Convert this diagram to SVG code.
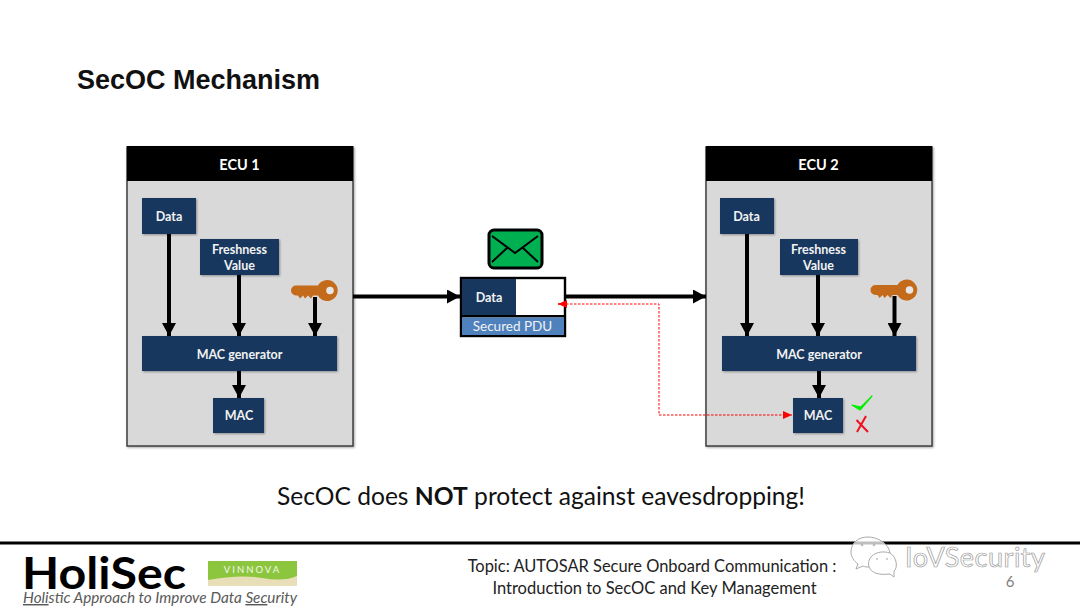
<svg xmlns="http://www.w3.org/2000/svg" width="1080" height="608" viewBox="0 0 1080 608">
<style>
text{font-family:Lato,"Open Sans",sans-serif}
.ecu{fill:#d9d9d9;stroke:#3f3f3f;stroke-width:1.5;filter:drop-shadow(1px 1px 1px rgba(0,0,0,.35))}
.head{fill:#000}
.hl{fill:#fff;font-size:14.5px;font-weight:700;text-anchor:middle}
.box{fill:#17375e;filter:drop-shadow(1px 1px 1px rgba(0,0,0,.35))}
.bl{fill:#f2f2f2;font-size:12.5px;font-weight:700;text-anchor:middle}
.wire{stroke:#000;stroke-width:4;fill:none}
.key{fill:#c46a1b}
</style>
<defs>
<marker id="arrow" markerUnits="userSpaceOnUse" markerWidth="14" markerHeight="14" refX="13" refY="7" orient="auto"><path d="M0 0L13 7L0 14Z" fill="#000"/></marker>
<marker id="arrowRed" markerUnits="userSpaceOnUse" markerWidth="10" markerHeight="8" refX="9" refY="4" orient="auto"><path d="M0 0L9 4L0 8Z" fill="#f00"/></marker>
<g id="keyGlyph"><path class="key" d="M3 -5L25 -5A10.500 10.500 0 1 1 25 5L20 5L18 8L15 5L12 8L10 5L7 8L5 5L3 5A5 5 0 0 1 3 -5Z"/><circle cx="37" cy="0" r="3.800" fill="#e6e6e6"/></g>
</defs>
<rect width="1080" height="608" fill="#fff"/>
<text x="77" y="89" font-size="27" font-weight="700" style="font-family:'Liberation Sans',Arial,sans-serif" fill="#111">SecOC Mechanism</text>

<g id="ecu1">
<rect class="ecu" x="127" y="147" width="226" height="299"/>
<rect class="head" x="127" y="146" width="226" height="35"/>
<text class="hl" x="239.500" y="169.500">ECU 1</text>
</g>
<g id="ecu2">
<rect class="ecu" x="706" y="147" width="226" height="299"/>
<rect class="head" x="706" y="146" width="226" height="35"/>
<text class="hl" x="818.500" y="169.500">ECU 2</text>
</g>

<g id="e1-data"><rect class="box" x="142" y="198" width="54" height="36"/><text class="bl" x="169" y="220.500">Data</text></g>
<g id="e1-fresh"><rect class="box" x="200" y="239" width="79" height="36"/><text class="bl" x="239.500" y="253.500">Freshness</text><text class="bl" x="239.500" y="269.500">Value</text></g>
<g id="e1-key"><use href="#keyGlyph" x="293" y="290.500"/></g>
<g id="e1-gen"><rect class="box" x="142" y="336" width="195" height="35"/><text class="bl" x="239.500" y="358.500">MAC generator</text></g>
<g id="e1-mac"><rect class="box" x="213" y="398" width="51" height="35"/><text class="bl" x="239" y="420">MAC</text></g>

<g id="e2-data"><rect class="box" x="720" y="198" width="54" height="36"/><text class="bl" x="746.500" y="220.500">Data</text></g>
<g id="e2-fresh"><rect class="box" x="780" y="239" width="78" height="36"/><text class="bl" x="818.500" y="253.500">Freshness</text><text class="bl" x="818.500" y="269.500">Value</text></g>
<g id="e2-key"><use href="#keyGlyph" x="872.500" y="290"/></g>
<g id="e2-gen"><rect class="box" x="722" y="336" width="194" height="35"/><text class="bl" x="819" y="358.500">MAC generator</text></g>
<g id="e2-mac"><rect class="box" x="793" y="398" width="50" height="35"/><text class="bl" x="818" y="420">MAC</text></g>

<g id="connectors">
<path class="wire" d="M169 234V336" marker-end="url(#arrow)"/>
<path class="wire" d="M239 275V336" marker-end="url(#arrow)"/>
<path class="wire" d="M315 297V336" marker-end="url(#arrow)"/>
<path class="wire" d="M239 371V398" marker-end="url(#arrow)"/>
<path class="wire" d="M747 234V336" marker-end="url(#arrow)"/>
<path class="wire" d="M818 275V336" marker-end="url(#arrow)"/>
<path class="wire" d="M894.500 296V336" marker-end="url(#arrow)"/>
<path class="wire" d="M819 371V398" marker-end="url(#arrow)"/>
<path class="wire" d="M353 296.500H460" marker-end="url(#arrow)"/>
<path class="wire" d="M565 296.500H706" marker-end="url(#arrow)"/>
</g>

<g id="envelope">
<rect x="489" y="230" width="53" height="38" rx="5" fill="#00b050" stroke="#000" stroke-width="3"/>
<path d="M492 236L515 253L538 236M492 262L507 248M538 262L523 248" fill="none" stroke="#000" stroke-width="2"/>
</g>
<g id="pdu">
<rect x="461" y="278" width="104" height="58" fill="#fff" stroke="#000" stroke-width="2.400"/>
<rect x="462" y="279" width="54" height="36" fill="#17375e"/>
<rect x="462" y="315" width="102" height="2.500" fill="#000"/>
<rect x="462" y="317.500" width="102" height="17.500" fill="#4f81bd"/>
<text class="bl" x="489" y="302">Data</text>
<text x="512.500" y="331" font-size="13.500" text-anchor="middle" fill="#f2f2f2">Secured PDU</text>
</g>

<g id="verification-link">
<path d="M558 304H659V415H792" fill="none" stroke="#f00" stroke-width="1" stroke-dasharray="2.500 1.500" marker-end="url(#arrowRed)"/>
<path d="M567 304H558" fill="none" stroke="#f00" stroke-width="1" marker-end="url(#arrowRed)"/>
</g>
<g id="verdict">
<path d="M852 405L860 410L872 396L861 407Z" fill="#00ee00" stroke="#00ee00" stroke-width="1.200" stroke-linejoin="round"/>
<path d="M857 432L866 416M856.500 420L868 432" fill="none" stroke="#f01020" stroke-width="2"/>
</g>

<text x="541" y="505" font-size="24.600" text-anchor="middle" fill="#111">SecOC does <tspan font-weight="700">NOT</tspan> protect against eavesdropping!</text>

<g id="footer">
<rect x="0" y="541.500" width="1080" height="3" fill="#000"/>
<text x="22" y="588.500" font-size="44" font-weight="700" fill="#000" textLength="164" lengthAdjust="spacingAndGlyphs">HoliSec</text>
<text x="23" y="603" font-size="14.500" font-style="italic" fill="#595959" textLength="274" lengthAdjust="spacingAndGlyphs"><tspan text-decoration="underline">Holi</tspan>stic Approach to Improve Data <tspan text-decoration="underline">Sec</tspan>urity</text>
<rect x="208" y="561" width="89" height="25" fill="#8cc63f"/>
<path d="M208 580Q240 574 262 578T297 576V586H208Z" fill="#e8dfb8"/>
<text x="252.500" y="573" font-size="9.500" letter-spacing="2" text-anchor="middle" fill="#f4f8e8">VINNOVA</text>
<text x="652" y="572" font-size="16.450" text-anchor="middle" fill="#222">Topic: AUTOSAR Secure Onboard Communication :</text>
<text x="654.500" y="594" font-size="16.500" text-anchor="middle" fill="#222">Introduction to SecOC and Key Management</text>
<text x="1010" y="587" font-size="15" text-anchor="middle" fill="#7f7f7f">6</text>
</g>

<g id="wechat-mark" fill="#fff" fill-opacity=".75" stroke="#aaa" stroke-width="1">
<path d="M868 537C858 537 851 543 851 552C851 557 854 561 858 564L856 569L863 566C865 567 867 567 869 567C872 574 880 575 890 574L894 577V571C898 568 897 557 890 553C889 544 878 537 868 537Z"/>
<path d="M869 567C866 557 877 549 890 553" fill="none"/>
<g fill="#aaa" stroke="none"><circle cx="862" cy="545" r="1.300"/><circle cx="874" cy="545" r="1.300"/><circle cx="877" cy="559" r="1"/><circle cx="887" cy="559" r="1"/></g>
<text x="905" y="567" font-size="27" letter-spacing=".5" fill="#fff" stroke="#999" stroke-width=".7">IoVSecurity</text>
</g>
</svg>
